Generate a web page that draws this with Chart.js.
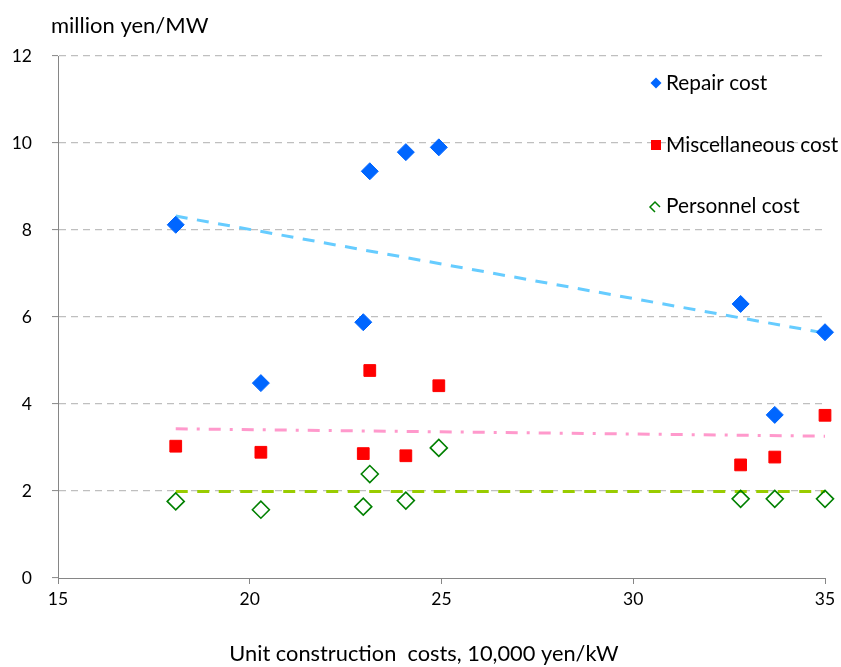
<!DOCTYPE html>
<html>
<head>
<meta charset="utf-8">
<script src="https://cdn.jsdelivr.net/npm/chart.js@4/dist/chart.umd.min.js"></script>
<style>
  html, body { margin: 0; padding: 0; background: #ffffff; }
  #wrap { width: 841px; height: 667px; }
</style>
</head>
<body>
<div id="wrap"><canvas id="c" width="841" height="667"></canvas></div>
<script>
// Unit construction cost of each plant (10,000 yen/kW)
const plantCost = [18.07, 20.29, 22.96, 23.13, 24.07, 24.93, 32.8, 33.69, 35.0];
// O&M cost components (million yen/MW)
const repairCost = [8.12, 4.48, 5.88, 9.35, 9.79, 9.90, 6.30, 3.75, 5.65];
const miscCost = [3.03, 2.89, 2.86, 4.77, 2.81, 4.42, 2.60, 2.78, 3.74];
const personnelCost = [1.76, 1.57, 1.64, 2.39, 1.78, 2.99, 1.82, 1.82, 1.82];
// Linear trend lines: end points
const trendX = [18.07, 35.0];
const repairTrend = [8.32, 5.63];
const miscTrend = [3.43, 3.26];
const personnelTrend = [1.99, 1.99];
// Axis ticks and labels
const xTicks = [15, 20, 25, 30, 35];
const yTicks = [0, 2, 4, 6, 8, 10, 12];
const seriesNames = ['Repair cost', 'Miscellaneous cost', 'Personnel cost'];
const yUnit = 'million yen/MW';
const xTitle = 'Unit construction  costs, 10,000 yen/kW';

const FONT = 'Lato, "Open Sans", sans-serif';
const BLUE = '#0066FF', RED = '#FF0000', GREEN = '#008000';

const pts = (xs, ys) => xs.map((x, i) => ({ x, y: ys[i] }));

const labelsPlugin = {
  id: 'labels',
  afterDraw(chart) {
    const ctx = chart.ctx;
    ctx.save();
    ctx.fillStyle = '#000000';
    ctx.textBaseline = 'middle';
    ctx.font = '22px ' + FONT;
    ctx.textAlign = 'left';
    ctx.fillText(yUnit, 51, 26);
    ctx.font = '21.8px ' + FONT;
    ctx.textAlign = 'center';
    ctx.fillText(xTitle, 424, 654);

    // legend
    const lx = 656, ys = [83, 145, 206];
    ctx.textAlign = 'left';
    ctx.font = '20.8px ' + FONT;
    seriesNames.forEach((n, i) => ctx.fillText(n, 666, ys[i]));
    // repair: filled diamond
    ctx.fillStyle = BLUE;
    ctx.beginPath();
    ctx.moveTo(lx - 5.5, ys[0]); ctx.lineTo(lx, ys[0] - 5.5); ctx.lineTo(lx + 5.5, ys[0]); ctx.lineTo(lx, ys[0] + 5.5);
    ctx.closePath(); ctx.fill();
    // misc: filled square
    ctx.fillStyle = RED;
    ctx.fillRect(lx - 5, ys[1] - 5, 10, 10);
    // personnel: open diamond
    ctx.strokeStyle = GREEN;
    ctx.lineWidth = 1.5;
    ctx.beginPath();
    const px = lx - 1, py = ys[2] + 1;
    ctx.moveTo(px + 5, py); ctx.lineTo(px, py - 5); ctx.lineTo(px - 5, py); ctx.lineTo(px, py + 5);
    ctx.stroke();
    ctx.restore();
  }
};

new Chart(document.getElementById('c'), {
  type: 'scatter',
  data: {
    datasets: [
      { label: seriesNames[0], data: pts(plantCost, repairCost), pointStyle: 'rectRot', pointRadius: 8.5,
        backgroundColor: BLUE, borderColor: BLUE, borderWidth: 1, clip: false },
      { label: seriesNames[1], data: pts(plantCost, miscCost), pointStyle: 'rect', pointRadius: 8.3,
        backgroundColor: RED, borderColor: RED, borderWidth: 1, clip: false },
      { label: seriesNames[2], data: pts(plantCost, personnelCost), pointStyle: 'rectRot', pointRadius: 8.5,
        backgroundColor: 'rgba(0,0,0,0)', borderColor: GREEN, borderWidth: 1.6, clip: false },
      { type: 'line', data: pts(trendX, repairTrend), borderColor: '#66CCFF', borderWidth: 3,
        borderDash: [12, 9.5], pointRadius: 0, fill: false, clip: false },
      { type: 'line', data: pts(trendX, miscTrend), borderColor: '#FF99CC', borderWidth: 3,
        borderDash: [12, 9, 3, 9], pointRadius: 0, fill: false, clip: false },
      { type: 'line', data: pts(trendX, personnelTrend), borderColor: '#99CC00', borderWidth: 3,
        borderDash: [12, 9.5], pointRadius: 0, fill: false, clip: false }
    ]
  },
  options: {
    responsive: false,
    animation: false,
    events: [],
    layout: { padding: { left: 0, top: 56, right: 16, bottom: 0 } },
    plugins: { legend: { display: false }, tooltip: { enabled: false }, title: { display: false } },
    scales: {
      x: {
        type: 'linear', min: 15, max: 35,
        afterFit(s) { s.height = 89; },
        afterBuildTicks(s) { s.ticks = xTicks.map(v => ({ value: v })); },
        grid: { drawOnChartArea: false, drawTicks: true, tickLength: 6, tickColor: '#868686', tickWidth: 1 },
        border: { display: true, color: '#868686', width: 1 },
        ticks: { color: '#000000', font: { family: FONT, size: 17.5 }, padding: 5, maxRotation: 0 }
      },
      y: {
        type: 'linear', min: 0, max: 12,
        afterFit(s) { s.width = 58; },
        afterBuildTicks(s) { s.ticks = yTicks.map(v => ({ value: v })); },
        grid: {
          color: ctx => ctx.tick && ctx.tick.value === 0 ? 'rgba(0,0,0,0)' : '#BFBFBF',
          lineWidth: 1.2, drawTicks: true, tickLength: 6, tickColor: '#868686', tickWidth: 1, tickBorderDash: []
        },
        border: { display: true, color: '#868686', width: 1, dash: [7, 5] },
        ticks: { color: '#000000', font: { family: FONT, size: 17.5 }, padding: 20 }
      }
    }
  },
  plugins: [labelsPlugin]
});
</script>
</body>
</html>
